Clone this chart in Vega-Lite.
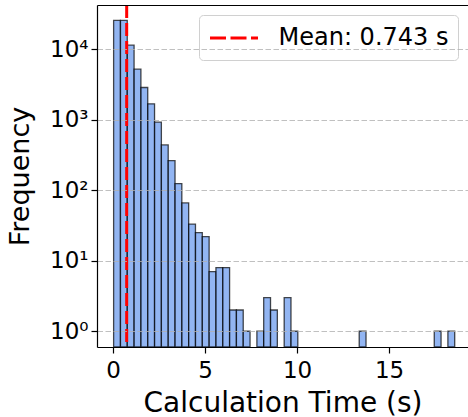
{
  "$schema": "https://vega.github.io/schema/vega-lite/v6.json",
  "autosize": "none",
  "padding": {"left": 97, "top": 5, "right": 0, "bottom": 70},
  "width": 371,
  "height": 342,
  "config": {
    "view": {"stroke": null},
    "font": "DejaVu Sans",
    "axis": {"labelFont": "DejaVu Sans", "titleFont": "DejaVu Sans", "labelColor": "black", "titleColor": "black", "titleFontWeight": "normal", "domainColor": "black", "tickColor": "black", "domainWidth": 1.2, "tickWidth": 1.2}
  },
  "datasets": {
    "bins": [
      {"start": 0.033, "end": 0.404, "count": 25600},
      {"start": 0.404, "end": 0.774, "count": 25600},
      {"start": 0.774, "end": 1.145, "count": 11400},
      {"start": 1.145, "end": 1.516, "count": 5210},
      {"start": 1.516, "end": 1.887, "count": 2860},
      {"start": 1.887, "end": 2.257, "count": 1680},
      {"start": 2.257, "end": 2.628, "count": 922},
      {"start": 2.628, "end": 2.999, "count": 439},
      {"start": 2.999, "end": 3.370, "count": 262},
      {"start": 3.370, "end": 3.740, "count": 124},
      {"start": 3.740, "end": 4.111, "count": 66},
      {"start": 4.111, "end": 4.481, "count": 33},
      {"start": 4.481, "end": 4.852, "count": 25},
      {"start": 4.852, "end": 5.223, "count": 22},
      {"start": 5.223, "end": 5.593, "count": 7},
      {"start": 5.593, "end": 5.964, "count": 8},
      {"start": 5.964, "end": 6.335, "count": 8},
      {"start": 6.335, "end": 6.705, "count": 2},
      {"start": 6.705, "end": 7.076, "count": 2},
      {"start": 7.076, "end": 7.447, "count": 1},
      {"start": 7.818, "end": 8.188, "count": 1},
      {"start": 8.188, "end": 8.559, "count": 3},
      {"start": 8.559, "end": 8.930, "count": 2},
      {"start": 9.301, "end": 9.671, "count": 3},
      {"start": 9.671, "end": 10.042, "count": 1},
      {"start": 13.378, "end": 13.749, "count": 1},
      {"start": 17.456, "end": 17.826, "count": 1},
      {"start": 18.197, "end": 18.568, "count": 1}
    ],
    "mean": [{"mean": 0.743, "label": "Mean: 0.743 s"}]
  },
  "resolve": {"axis": {"x": "independent", "y": "independent"}},
  "layer": [
    {
      "data": {"name": "bins"},
      "mark": {"type": "bar", "fill": "#6495ED", "fillOpacity": 0.7, "stroke": "black", "strokeOpacity": 0.7, "strokeWidth": 1.3},
      "encoding": {
        "x": {"field": "start", "type": "quantitative",
              "scale": {"domain": [-0.87, 19.29], "nice": false, "zero": false},
              "axis": {"values": [0, 5, 10, 15], "title": "Calculation Time (s)", "labelFontSize": 23, "titleFontSize": 28, "tickSize": 6, "labelPadding": 6, "titlePadding": 7, "grid": false, "zindex": 1, "labelFlush": false}},
        "x2": {"field": "end"},
        "y": {"field": "count", "type": "quantitative",
              "scale": {"type": "log", "domain": [0.598, 42300], "nice": false},
              "axis": {"values": [1, 10, 100, 1000, 10000], "title": "Frequency", "labelFontSize": 23, "titleFontSize": 27, "tickSize": 6, "labelPadding": 3, "titlePadding": 15,
                       "labelExpr": "'10' + ['⁰','¹','²','³','⁴'][round(log(datum.value)/LN10)]",
                       "grid": true, "gridColor": "#b0b0b0", "gridDash": [5.5, 2.5], "gridWidth": 1, "gridOpacity": 0.8, "zindex": 1}},
        "y2": {"datum": 0.598}
      }
    },
    {
      "data": {"name": "mean"},
      "mark": {"type": "rule", "strokeWidth": 3, "strokeDash": [13, 5]},
      "encoding": {
        "x": {"field": "mean", "type": "quantitative",
              "axis": {"orient": "top", "labels": false, "ticks": false, "title": null, "grid": false, "domain": true, "zindex": 1}},
        "color": {"field": "label", "type": "nominal",
                  "scale": {"range": ["red"]},
                  "legend": {"title": null, "orient": "top-right", "offset": 10, "symbolType": "M-2,0L2,0", "symbolSize": 576, "symbolStrokeWidth": 3, "symbolDash": [16, 4.5], "symbolOffset": 12, "labelOffset": 31, "labelFontSize": 24, "labelLimit": 400, "labelFont": "DejaVu Sans", "labelColor": "black", "padding": 9.5, "fillColor": "rgba(255,255,255,0.8)", "strokeColor": "#d0d0d0", "cornerRadius": 4}}
      }
    },
    {
      "data": {"values": [{"v": 0.7}, {"v": 0.8}, {"v": 0.9}, {"v": 2}, {"v": 3}, {"v": 4}, {"v": 5}, {"v": 6}, {"v": 7}, {"v": 8}, {"v": 9}, {"v": 20}, {"v": 30}, {"v": 40}, {"v": 50}, {"v": 60}, {"v": 70}, {"v": 80}, {"v": 90}, {"v": 200}, {"v": 300}, {"v": 400}, {"v": 500}, {"v": 600}, {"v": 700}, {"v": 800}, {"v": 900}, {"v": 2000}, {"v": 3000}, {"v": 4000}, {"v": 5000}, {"v": 6000}, {"v": 7000}, {"v": 8000}, {"v": 9000}, {"v": 20000}, {"v": 30000}, {"v": 40000}]},
      "mark": {"type": "tick", "opacity": 0},
      "encoding": {
        "y": {"field": "v", "type": "quantitative",
              "axis": {"values": [0.7, 0.8, 0.9, 2, 3, 4, 5, 6, 7, 8, 9, 20, 30, 40, 50, 60, 70, 80, 90, 200, 300, 400, 500, 600, 700, 800, 900, 2000, 3000, 4000, 5000, 6000, 7000, 8000, 9000, 20000, 30000, 40000], "labels": false, "domain": false, "grid": false, "title": null, "tickSize": 3.5, "tickWidth": 1}}
      }
    }
  ]
}
